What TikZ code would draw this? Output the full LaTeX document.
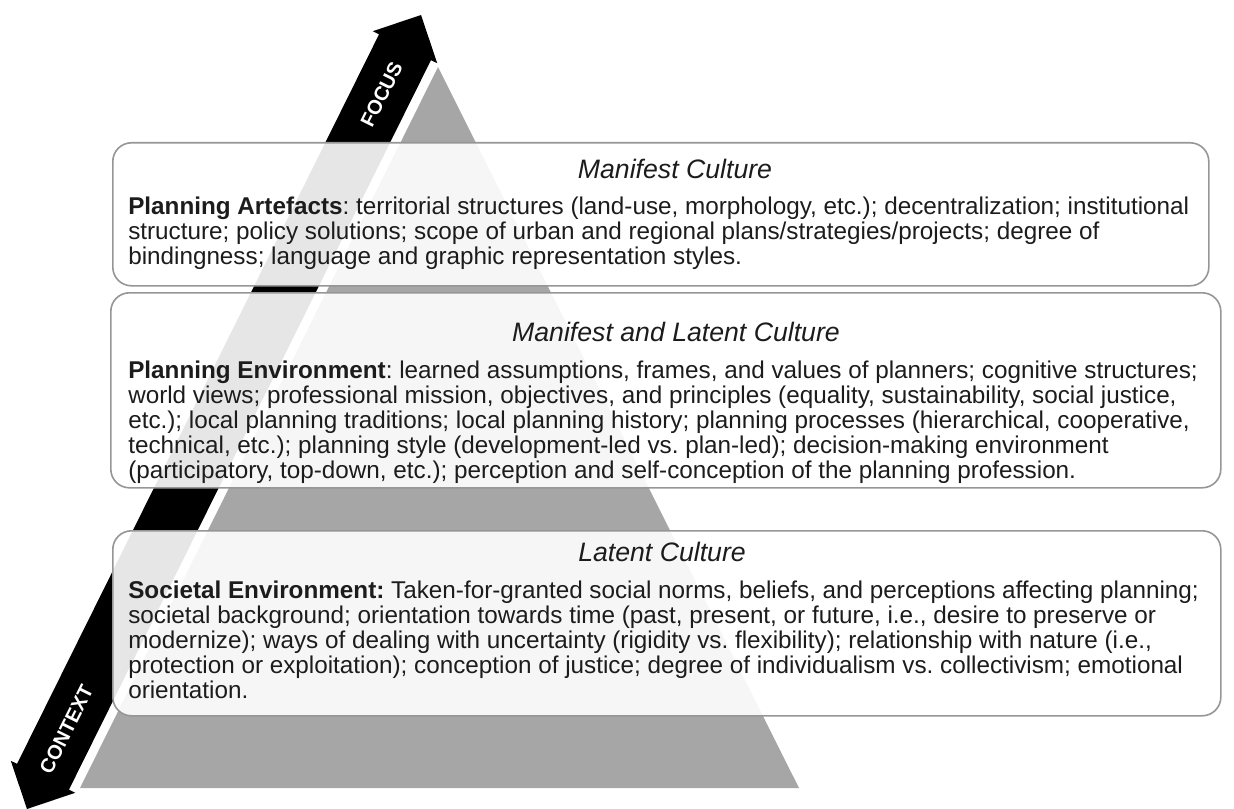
\documentclass[tikz,border=0pt]{standalone}
\usepackage{fontspec}
\setmainfont{Liberation Sans}
\usepackage{tikz}
\usetikzlibrary{calc}
\frenchspacing

\definecolor{pyrgray}{RGB}{166,166,166}
\definecolor{boxline}{RGB}{150,150,150}
\definecolor{txtgray}{RGB}{28,28,28}

\tikzset{
  layerbox/.style={draw=boxline, line width=1.2pt, rounded corners=14pt, fill=white, fill opacity=0.9, anchor=north west, inner sep=0pt},
  layertitle/.style={font=\fontsize{20}{22}\selectfont\itshape, text=txtgray, inner sep=0pt},
  layertext/.style={font=\fontsize{18.2}{18.6}\selectfont, text=txtgray, align=left, anchor=north west, inner sep=0pt},
  arrowlbl/.style={font=\fontsize{15}{15}\selectfont\bfseries, text=white, rotate=63.5, inner sep=0pt}
}

\begin{document}
\begin{tikzpicture}[x=0.75pt,y=0.75pt,yscale=-1,xscale=1]
\useasboundingbox (0,0) rectangle (1234,809);

%Pyramid
\fill[pyrgray] (438,67) -- (799,788) -- (80,788) -- cycle;

%Double arrow focus / context
\coordinate (ctxTip) at (27,809);
\coordinate (focTip) at (421,15);
\coordinate (ctxBase) at ($(ctxTip)!27pt!(focTip)$);
\coordinate (focBase) at ($(focTip)!27pt!(ctxTip)$);
\fill[black] (ctxTip) -- ($(ctxBase)!27pt!90:(focTip)$) -- ($(ctxBase)!21.75pt!90:(focTip)$)
  -- ($(focBase)!21.75pt!-90:(ctxTip)$) -- ($(focBase)!27pt!-90:(ctxTip)$) -- (focTip)
  -- ($(focBase)!27pt!90:(ctxTip)$) -- ($(focBase)!21.75pt!90:(ctxTip)$)
  -- ($(ctxBase)!21.75pt!-90:(focTip)$) -- ($(ctxBase)!27pt!-90:(focTip)$) -- cycle;
\path (ctxTip) -- (focTip)
  node[arrowlbl, pos=0.9] (focusLbl) {FOCUS}
  node[arrowlbl, pos=0.1] (contextLbl) {CONTEXT};

%Layer boxes
\node[layerbox, minimum width=822pt, minimum height=107.25pt] (manifest) at (112,142) {};
\node[layerbox, minimum width=832.5pt, minimum height=146.25pt] (mixed) at (110,292) {};
\node[layerbox, minimum width=831pt, minimum height=138.75pt] (latent) at (112,530) {};

% Titles
\node[layertitle] (manifestTitle) at (675,169) {Manifest Culture};
\node[layertitle] (mixedTitle) at (676,332) {Manifest and Latent Culture};
\node[layertitle] (latentTitle) at (662,552) {Latent Culture};

% Body texts
\node[layertext] (manifestText) at (128,197) {\textbf{Planning Artefacts}: territorial structures (land-use, morphology, etc.); decentralization; institutional\\structure; policy solutions; scope of urban and regional plans/strategies/projects; degree of\\bindingness; language and graphic representation styles.};
\node[layertext] (mixedText) at (128,361) {\textbf{Planning Environment}: learned assumptions, frames, and values of planners; cognitive structures;\\world views; professional mission, objectives, and principles (equality, sustainability, social justice,\\etc.); local planning traditions; local planning history; planning processes (hierarchical, cooperative,\\technical, etc.); planning style (development-led vs. plan-led); decision-making environment\\(participatory, top-down, etc.); perception and self-conception of the planning profession.};
\node[layertext] (latentText) at (128,581) {\textbf{Societal Environment:} Taken-for-granted social norms, beliefs, and perceptions affecting planning;\\societal background; orientation towards time (past, present, or future, i.e., desire to preserve or\\modernize); ways of dealing with uncertainty (rigidity vs. flexibility); relationship with nature (i.e.,\\protection or exploitation); conception of justice; degree of individualism vs. collectivism; emotional\\orientation.};

\end{tikzpicture}
\end{document}
